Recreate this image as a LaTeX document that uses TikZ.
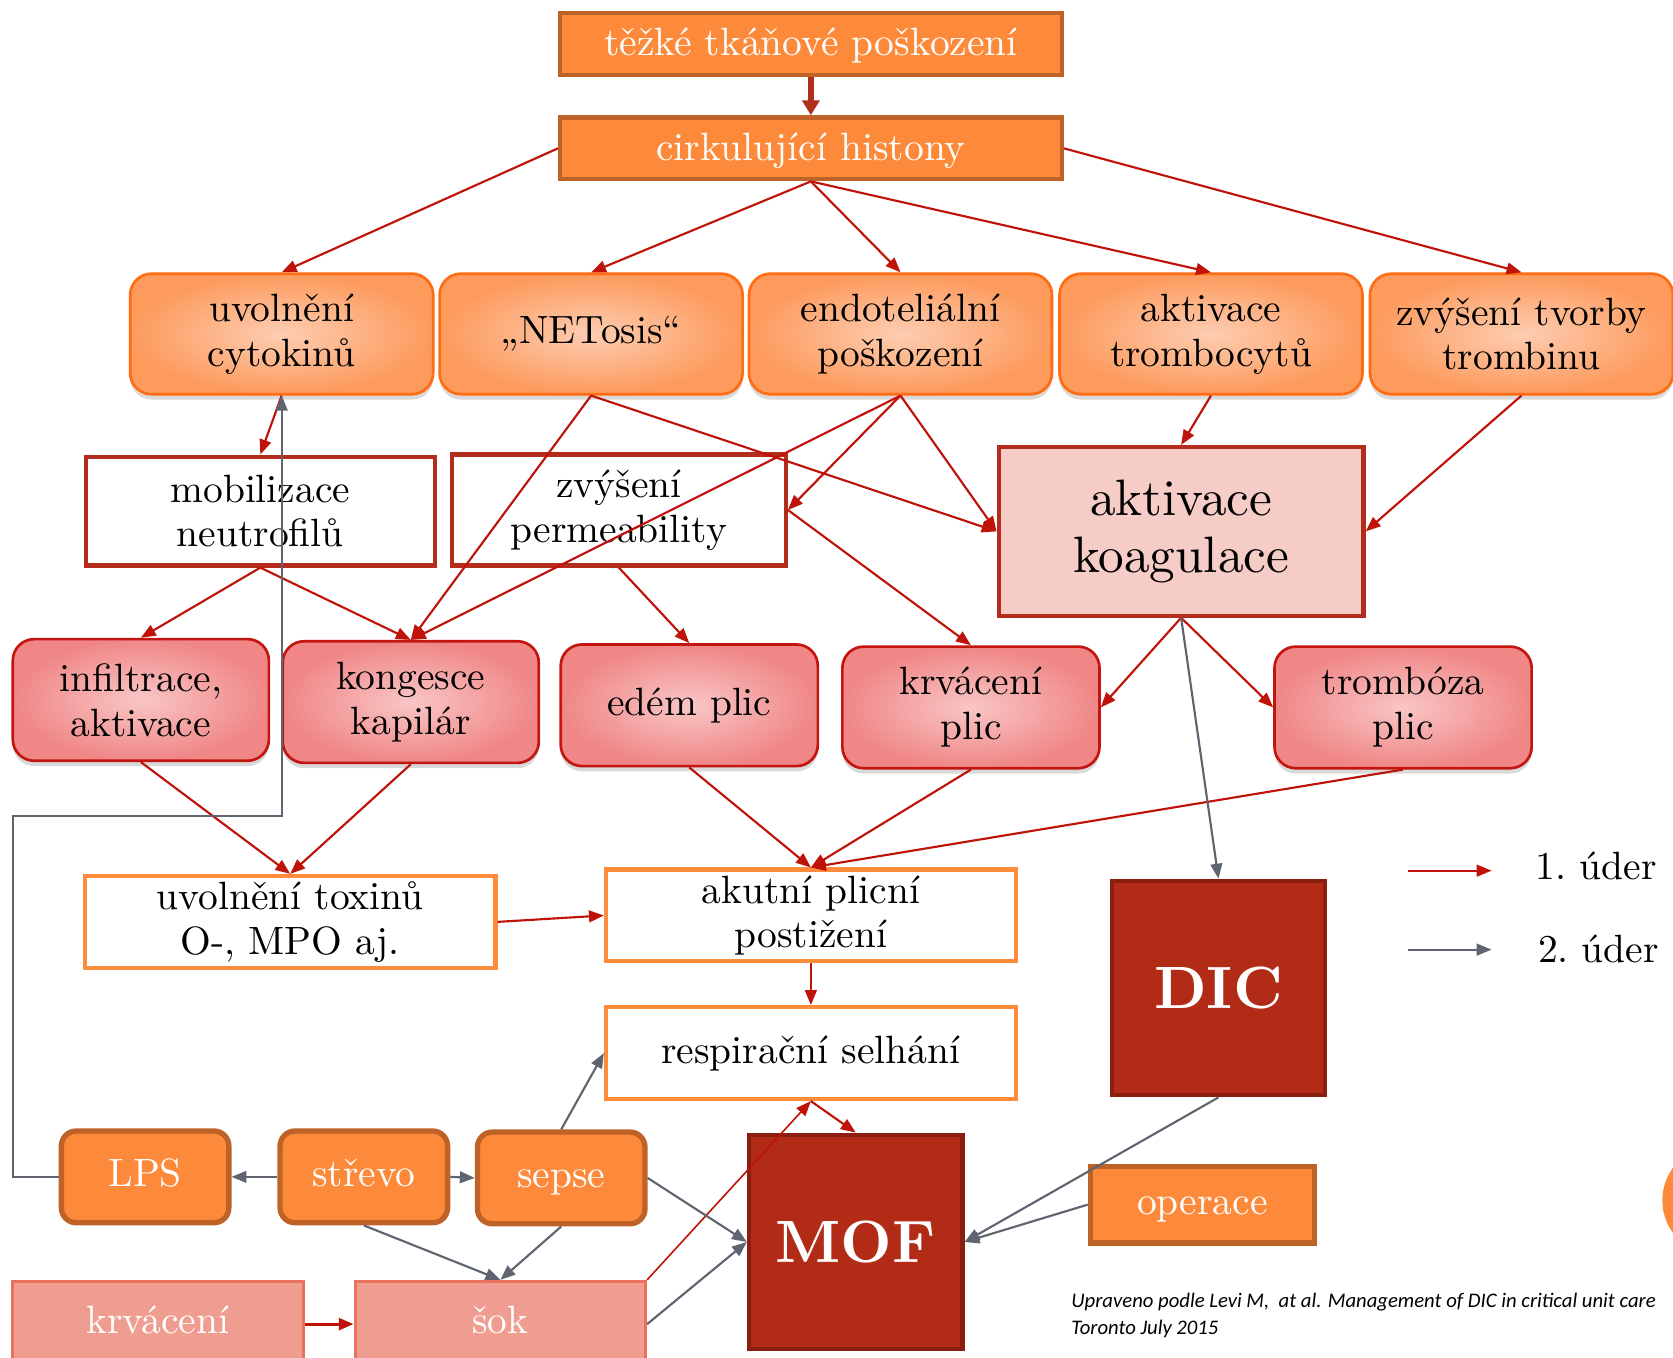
\documentclass[tikz,border=0pt]{standalone}
\usepackage{fontspec}
\usepackage{tikz}
\usepackage{xcolor}
\usetikzlibrary{positioning, arrows.meta, shadows}
\setmainfont{lmroman10-regular.otf}[BoldFont=lmroman10-bold.otf, ItalicFont=lmroman10-italic.otf]
\newfontfamily\notefont{Carlito}

\definecolor{hitred}{HTML}{BF1208}
\definecolor{hitgrey}{HTML}{5E6570}
\definecolor{toparrow}{HTML}{B0301C}
\definecolor{orangefill}{HTML}{FD8A3A}
\definecolor{orangeline}{HTML}{BF6228}
\definecolor{peachin}{HTML}{FDCDB2}
\definecolor{peachout}{HTML}{FD9A5C}
\definecolor{peachline}{HTML}{FF6C12}
\definecolor{pinkin}{HTML}{F9C6C6}
\definecolor{pinkout}{HTML}{F08686}
\definecolor{pinkline}{HTML}{C41610}
\definecolor{boxred}{HTML}{B42C1B}
\definecolor{koagfill}{HTML}{F6CCC6}
\definecolor{fatalfill}{HTML}{B22B17}
\definecolor{fatalline}{HTML}{8A1E10}
\definecolor{toxline}{HTML}{FF8C3B}
\definecolor{salmonfill}{HTML}{F09D91}
\definecolor{salmonline}{HTML}{E9725F}

\begin{document}
\begin{tikzpicture}[
  x=1pt, y=-1pt,
  hit1/.style={draw=hitred, line width=2pt, -{Triangle[length=14pt,width=11pt]}},
  hit2/.style={draw=hitgrey, line width=2pt, -{Triangle[length=14pt,width=11pt]}},
  big/.style={font=\fontsize{37}{42}\selectfont},
  topbox/.style={draw=orangeline, line width=4pt, fill=orangefill, text=white, minimum width=470pt, minimum height=58pt, inner sep=0pt, text height=27pt, text depth=5pt, big},
  cause/.style={draw=peachline, line width=2.5pt, rounded corners=20pt, inner color=peachin, outer color=peachout, drop shadow={shadow xshift=0pt, shadow yshift=-5pt, opacity=0.3}, minimum width=284pt, minimum height=113pt, inner sep=0pt, align=center, big},
  midbox/.style={draw=boxred, line width=4pt, fill=white, inner sep=0pt, align=center, big},
  lung/.style={draw=pinkline, line width=2.5pt, rounded corners=20pt, inner color=pinkin, outer color=pinkout, drop shadow={shadow xshift=0pt, shadow yshift=-5pt, opacity=0.3}, minimum width=241pt, minimum height=114pt, inner sep=0pt, align=center, big},
  outbox/.style={draw=toxline, line width=4pt, fill=white, minimum width=384pt, minimum height=86pt, inner sep=0pt, align=center, big},
  fatal/.style={draw=fatalline, line width=4pt, fill=fatalfill, text=white, minimum width=200pt, minimum height=201pt, inner sep=0pt, font=\fontsize{56}{60}\selectfont\bfseries},
  source/.style={draw=orangeline, line width=5pt, fill=orangefill, text=white, rounded corners=14pt, minimum width=157pt, minimum height=86pt, inner sep=0pt, text height=26pt, text depth=8pt, big},
  bleed/.style={draw=salmonline, line width=3pt, fill=salmonfill, text=white, minimum width=273pt, minimum height=80pt, inner sep=0pt, text height=26pt, text depth=8pt, big}
]
\useasboundingbox (0,0) rectangle (1568,1272);

% Top: injury and histones
\node[topbox] (injury) at (760,41) {těžké tkáňové poškození};
\node[topbox] (histone) at (760,139) {cirkulující histony};

% Row 2: direct effects
\node[cause] (cyto) at (264,313) {uvolnění\\cytokinů};
\node[cause] (net) at (554,313) {„NETosis“};
\node[cause] (endo) at (844,313) {endoteliální\\poškození};
\node[cause] (trom) at (1135,313) {aktivace\\trombocytů};
\node[cause] (thr) at (1426,313) {zvýšení tvorby\\trombinu};

% Row 3
\node[midbox, minimum width=327pt, minimum height=102pt] (mob) at (244,479) {mobilizace\\neutrofilů};
\node[midbox, minimum width=313pt, minimum height=104pt] (perm) at (580,478) {zvýšení\\permeability};
\node[midbox, fill=koagfill, minimum width=342pt, minimum height=158pt, font=\fontsize{48}{53}\selectfont] (koag) at (1107,498) {aktivace\\koagulace};

% Row 4: lungs
\node[lung, minimum width=240pt] (inf) at (132,656) {infiltrace,\\aktivace};
\node[lung, minimum width=240pt] (kong) at (385,658) {kongesce\\kapilár};
\node[lung] (edem) at (646,661) {edém plic};
\node[lung] (krvp) at (910,663) {krvácení\\plic};
\node[lung] (tromb) at (1315,663) {trombóza\\plic};

% Row 5
\node[outbox, minimum width=385pt] (tox) at (272,864) {uvolnění toxinů\\O-, MPO aj.};
\node[outbox] (akut) at (760,858) {akutní plicní\\postižení};
\node[outbox] (resp) at (760,987) {respirační selhání};
\node[fatal] (dic) at (1142,926) {DIC};
\node[fatal] (mof) at (802,1164) {MOF};

% Second hit sources
\node[source] (lps) at (136,1103) {LPS};
\node[source] (strevo) at (341,1103) {střevo};
\node[source] (sepse) at (526,1104) {sepse};
\node[source, rounded corners=0pt, minimum width=210pt, minimum height=72pt] (oper) at (1127,1129) {operace};
\node[bleed] (krv) at (148,1241) {krvácení};
\node[bleed, minimum width=272pt] (sok) at (469,1241) {šok};

% Orange disc cut by the edge
\fill[orangefill] (1610,1125) circle (52);

% Legend
\coordinate (l1a) at (1320,816);
\coordinate (l1b) at (1398,816);
\coordinate (l2a) at (1320,890);
\coordinate (l2b) at (1398,890);
\draw[hit1] (l1a) -- (l1b);
\draw[hit2] (l2a) -- (l2b);
\node[big, anchor=west] (leg1) at (1436,812) {1.\ úder};
\node[big, anchor=west] (leg2) at (1438,889) {2.\ úder};

% Source note
\node[anchor=north west, align=left, inner sep=0pt, font=\notefont\itshape\fontsize{19.4}{25}\selectfont] (cite) at (1004,1212) {Upraveno podle Levi M,\ \ at al. Management of DIC in critical unit care\\Toronto July 2015};

% First hit
\draw[draw=toparrow, line width=5pt, -{Triangle[length=14pt,width=16pt]}] (injury) -- (histone);
\draw[hit1] (histone.west) -- (cyto.north);
\draw[hit1] (histone.south) -- (net.north);
\draw[hit1] (histone.south) -- (endo.north);
\draw[hit1] (histone.south) -- (trom.north);
\draw[hit1] (histone.east) -- (thr.north);
\draw[hit1] (cyto.south) -- (mob.north);
\draw[hit1] (net.south) -- (kong.north);
\draw[hit1] (net.south) -- (koag.west);
\draw[hit1] (endo.south) -- (kong.north);
\draw[hit1] (endo.south) -- (perm.east);
\draw[hit1] (endo.south) -- (koag.west);
\draw[hit1] (trom.south) -- (koag.north);
\draw[hit1] (thr.south) -- (koag.east);
\draw[hit1] (perm.east) -- (krvp.north);
\draw[hit1] (mob.south) -- (inf.north);
\draw[hit1] (mob.south) -- (kong.north);
\draw[hit1] (perm.south) -- (edem.north);
\draw[hit1] (koag.south) -- (krvp.east);
\draw[hit1] (koag.south) -- (tromb.west);
\draw[hit1] (inf.south) -- (tox.north);
\draw[hit1] (kong.south) -- (tox.north);
\draw[hit1] (edem.south) -- (akut.north);
\draw[hit1] (krvp.south) -- (akut.north);
\draw[hit1] (tromb.south) -- (akut.north);
\draw[hit1] (tox.east) -- (akut.west);
\draw[hit1] (akut.south) -- (resp.north);
\draw[hit1] (resp.south) -- (mof.north);
\draw[hit1, line width=1.5pt] (sok.north east) -- (resp.south);
\draw[hit1, line width=3pt] (krv.east) -- (sok.west);

% Second hit
\coordinate (bend) at (12,765);
\draw[hit2] (koag.south) -- (dic.north);
\draw[hit2] (lps.west) -| (bend) -| (cyto.south);
\draw[hit2] (strevo.west) -- (lps.east);
\draw[hit2] (strevo.east) -- (sepse.west);
\draw[hit2] (sepse.north) -- (resp.west);
\draw[hit2] (sepse.east) -- (mof.west);
\draw[hit2] (sok.east) -- (mof.west);
\draw[hit2] (strevo.south) -- (sok.north);
\draw[hit2] (sepse.south) -- (sok.north);
\draw[hit2] (dic.south) -- (mof.east);
\draw[hit2] (oper.west) -- (mof.east);

\end{tikzpicture}
\end{document}
